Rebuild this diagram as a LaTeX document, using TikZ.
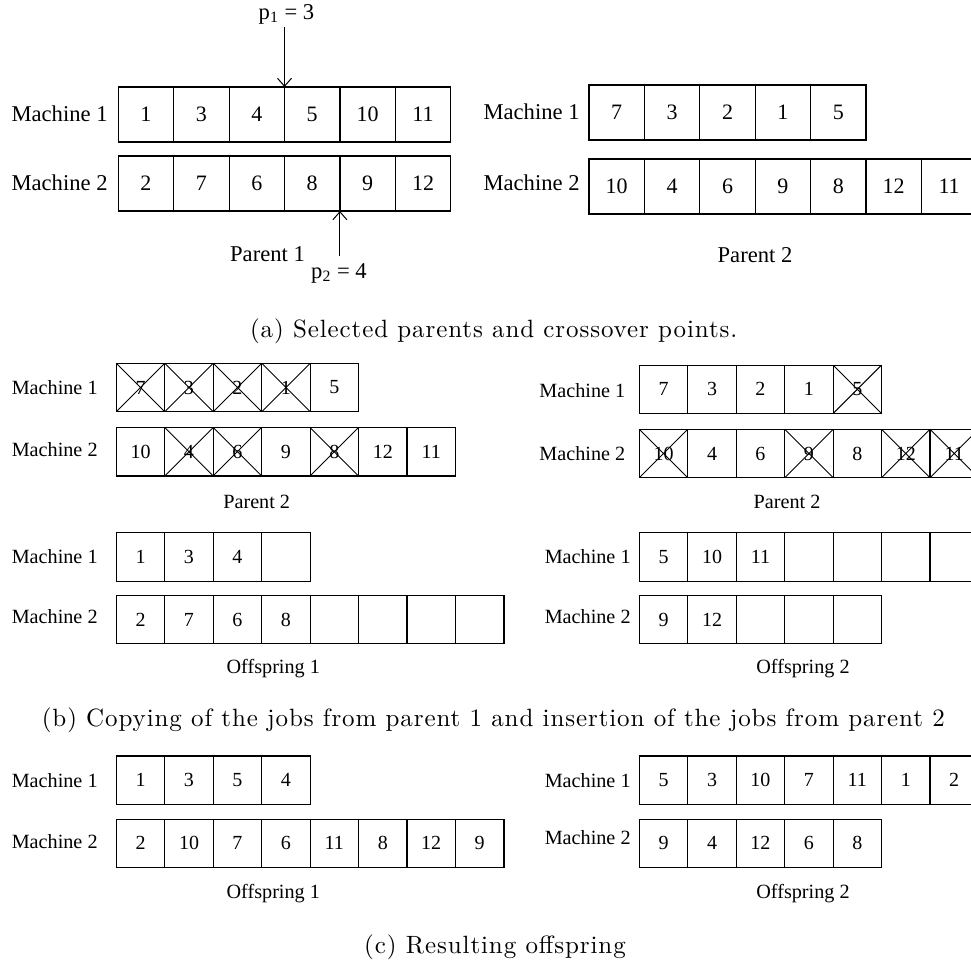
\documentclass[tikz,border=0pt]{standalone}
\usepackage{fontspec}
\usepackage{tikz}
\usetikzlibrary{arrows.meta}
\newfontfamily\jobfont{Liberation Serif}
\newfontfamily\capfont{lmroman10-regular}[Extension=.otf, LetterSpace=3.6]
\tikzset{
  bigcell/.style={draw, line width=0.6pt, minimum width=27.7pt, minimum height=27.5pt,
                  font=\jobfont\fontsize{11}{13}\selectfont, inner sep=0pt, outer sep=0pt, anchor=west},
  smallcell/.style={draw, line width=0.6pt, minimum width=24.2pt, minimum height=24.2pt,
                    font=\jobfont\fontsize{10}{12}\selectfont, inner sep=0pt, outer sep=0pt, anchor=west},
  crossed/.style={path picture={\draw[line width=0.45pt]
                    (path picture bounding box.north west) -- (path picture bounding box.south east)
                    (path picture bounding box.north east) -- (path picture bounding box.south west);}},
  biglabel/.style={font=\jobfont\fontsize{11.3}{13}\selectfont, inner sep=0pt},
  smalllabel/.style={font=\jobfont\fontsize{10.1}{12}\selectfont, inner sep=0pt},
  caption/.style={font=\capfont\fontsize{12.5}{15}\selectfont, inner sep=0pt},
  pointer/.style={line width=0.5pt, -{Straight Barb[length=4pt, width=7pt]}},
}
\begin{document}
\begin{tikzpicture}[x=0.5pt, y=-0.5pt]
    \clip (0,0) rectangle (971,966);
    \node[bigcell] (a1m1c1) at (118.3, 114.5) {1};
    \node[bigcell] (a1m1c2) at (173.7, 114.5) {3};
    \node[bigcell] (a1m1c3) at (229.1, 114.5) {4};
    \node[bigcell] (a1m1c4) at (284.5, 114.5) {5};
    \node[bigcell] (a1m1c5) at (339.9, 114.5) {10};
    \node[bigcell] (a1m1c6) at (395.3, 114.5) {11};
    \node[bigcell] (a1m2c1) at (118.3, 183.5) {2};
    \node[bigcell] (a1m2c2) at (173.7, 183.5) {7};
    \node[bigcell] (a1m2c3) at (229.1, 183.5) {6};
    \node[bigcell] (a1m2c4) at (284.5, 183.5) {8};
    \node[bigcell] (a1m2c5) at (339.9, 183.5) {9};
    \node[bigcell] (a1m2c6) at (395.3, 183.5) {12};
    \node[biglabel, anchor=east] (a1m1) at (108, 113.3) {Machine 1};
    \node[biglabel, anchor=east] (a1m2) at (108, 182.5) {Machine 2};
    \node[biglabel] (a1name) at (267.5, 254) {Parent 1};
    \node[biglabel, inner sep=1pt] (pone) at (286.5, 14.5) {p\textsubscript{1} = 3};
    \node[biglabel, inner sep=3.5pt] (ptwo) at (339, 273.3) {p\textsubscript{2} = 4};
    \draw[pointer] (pone.south -| a1m1c4.north west) -- (a1m1c4.north west);
    \draw[pointer] (ptwo.north -| a1m2c5.south west) -- (a1m2c5.south west);
    \node[bigcell] (a2m1c1) at (589.0, 112.5) {7};
    \node[bigcell] (a2m1c2) at (644.4, 112.5) {3};
    \node[bigcell] (a2m1c3) at (699.8, 112.5) {2};
    \node[bigcell] (a2m1c4) at (755.2, 112.5) {1};
    \node[bigcell] (a2m1c5) at (810.6, 112.5) {5};
    \node[bigcell] (a2m2c1) at (589.0, 186.5) {10};
    \node[bigcell] (a2m2c2) at (644.4, 186.5) {4};
    \node[bigcell] (a2m2c3) at (699.8, 186.5) {6};
    \node[bigcell] (a2m2c4) at (755.2, 186.5) {9};
    \node[bigcell] (a2m2c5) at (810.6, 186.5) {8};
    \node[bigcell] (a2m2c6) at (866.0, 186.5) {12};
    \node[bigcell] (a2m2c7) at (921.4, 186.5) {11};
    \node[biglabel, anchor=east] (a2m1) at (580, 111.7) {Machine 1};
    \node[biglabel, anchor=east] (a2m2) at (580, 182.5) {Machine 2};
    \node[biglabel] (a2name) at (755, 255) {Parent 2};
    \node[caption] (capa) at (493.7, 331) {(a) Selected parents and crossover points.};
    \node[smallcell, crossed] (b1m1c1) at (116.3, 387.5) {7};
    \node[smallcell, crossed] (b1m1c2) at (164.8, 387.5) {3};
    \node[smallcell, crossed] (b1m1c3) at (213.2, 387.5) {2};
    \node[smallcell, crossed] (b1m1c4) at (261.7, 387.5) {1};
    \node[smallcell] (b1m1c5) at (310.1, 387.5) {5};
    \node[smallcell] (b1m2c1) at (116.3, 451.7) {10};
    \node[smallcell, crossed] (b1m2c2) at (164.8, 451.7) {4};
    \node[smallcell, crossed] (b1m2c3) at (213.2, 451.7) {6};
    \node[smallcell] (b1m2c4) at (261.7, 451.7) {9};
    \node[smallcell, crossed] (b1m2c5) at (310.1, 451.7) {8};
    \node[smallcell] (b1m2c6) at (358.6, 451.7) {12};
    \node[smallcell] (b1m2c7) at (407.0, 451.7) {11};
    \node[smalllabel, anchor=east] (b1m1) at (98, 387.7) {Machine 1};
    \node[smalllabel, anchor=east] (b1m2) at (98, 449.2) {Machine 2};
    \node[smalllabel] (b1name) at (256.7, 502) {Parent 2};
    \node[smallcell] (b2m1c1) at (639.3, 389.3) {7};
    \node[smallcell] (b2m1c2) at (687.8, 389.3) {3};
    \node[smallcell] (b2m1c3) at (736.2, 389.3) {2};
    \node[smallcell] (b2m1c4) at (784.7, 389.3) {1};
    \node[smallcell, crossed] (b2m1c5) at (833.1, 389.3) {5};
    \node[smallcell, crossed] (b2m2c1) at (639.3, 453.5) {10};
    \node[smallcell] (b2m2c2) at (687.8, 453.5) {4};
    \node[smallcell] (b2m2c3) at (736.2, 453.5) {6};
    \node[smallcell, crossed] (b2m2c4) at (784.7, 453.5) {9};
    \node[smallcell] (b2m2c5) at (833.1, 453.5) {8};
    \node[smallcell, crossed] (b2m2c6) at (881.6, 453.5) {12};
    \node[smallcell, crossed] (b2m2c7) at (930.0, 453.5) {11};
    \node[smalllabel, anchor=east] (b2m1) at (625.7, 390.5) {Machine 1};
    \node[smalllabel, anchor=east] (b2m2) at (625.7, 453.7) {Machine 2};
    \node[smalllabel] (b2name) at (787, 502.3) {Parent 2};
    \node[smallcell] (b3m1c1) at (116.3, 556.9) {1};
    \node[smallcell] (b3m1c2) at (164.8, 556.9) {3};
    \node[smallcell] (b3m1c3) at (213.2, 556.9) {4};
    \node[smallcell] (b3m1c4) at (261.7, 556.9) {};
    \node[smallcell] (b3m2c1) at (116.3, 619.5) {2};
    \node[smallcell] (b3m2c2) at (164.8, 619.5) {7};
    \node[smallcell] (b3m2c3) at (213.2, 619.5) {6};
    \node[smallcell] (b3m2c4) at (261.7, 619.5) {8};
    \node[smallcell] (b3m2c5) at (310.1, 619.5) {};
    \node[smallcell] (b3m2c6) at (358.6, 619.5) {};
    \node[smallcell] (b3m2c7) at (407.0, 619.5) {};
    \node[smallcell] (b3m2c8) at (455.5, 619.5) {};
    \node[smalllabel, anchor=east] (b3m1) at (98, 556.7) {Machine 1};
    \node[smalllabel, anchor=east] (b3m2) at (98, 616.7) {Machine 2};
    \node[smalllabel] (b3name) at (273.3, 668.3) {Offspring 1};
    \node[smallcell] (b4m1c1) at (639.3, 556.9) {5};
    \node[smallcell] (b4m1c2) at (687.8, 556.9) {10};
    \node[smallcell] (b4m1c3) at (736.2, 556.9) {11};
    \node[smallcell] (b4m1c4) at (784.7, 556.9) {};
    \node[smallcell] (b4m1c5) at (833.1, 556.9) {};
    \node[smallcell] (b4m1c6) at (881.6, 556.9) {};
    \node[smallcell] (b4m1c7) at (930.0, 556.9) {};
    \node[smallcell] (b4m2c1) at (639.3, 619.5) {9};
    \node[smallcell] (b4m2c2) at (687.8, 619.5) {12};
    \node[smallcell] (b4m2c3) at (736.2, 619.5) {};
    \node[smallcell] (b4m2c4) at (784.7, 619.5) {};
    \node[smallcell] (b4m2c5) at (833.1, 619.5) {};
    \node[smalllabel, anchor=east] (b4m1) at (631, 557) {Machine 1};
    \node[smalllabel, anchor=east] (b4m2) at (631, 617) {Machine 2};
    \node[smalllabel] (b4name) at (803, 668.3) {Offspring 2};
    \node[caption] (capb) at (493.3, 720) {(b) Copying of the jobs from parent 1 and insertion of the jobs from parent 2};
    \node[smallcell] (c1m1c1) at (116.3, 780.1) {1};
    \node[smallcell] (c1m1c2) at (164.8, 780.1) {3};
    \node[smallcell] (c1m1c3) at (213.2, 780.1) {5};
    \node[smallcell] (c1m1c4) at (261.7, 780.1) {4};
    \node[smallcell] (c1m2c1) at (116.3, 843.3) {2};
    \node[smallcell] (c1m2c2) at (164.8, 843.3) {10};
    \node[smallcell] (c1m2c3) at (213.2, 843.3) {7};
    \node[smallcell] (c1m2c4) at (261.7, 843.3) {6};
    \node[smallcell] (c1m2c5) at (310.1, 843.3) {11};
    \node[smallcell] (c1m2c6) at (358.6, 843.3) {8};
    \node[smallcell] (c1m2c7) at (407.0, 843.3) {12};
    \node[smallcell] (c1m2c8) at (455.5, 843.3) {9};
    \node[smalllabel, anchor=east] (c1m1) at (98, 781) {Machine 1};
    \node[smalllabel, anchor=east] (c1m2) at (98, 842) {Machine 2};
    \node[smalllabel] (c1name) at (273.3, 893.3) {Offspring 1};
    \node[smallcell] (c2m1c1) at (639.3, 780.1) {5};
    \node[smallcell] (c2m1c2) at (687.8, 780.1) {3};
    \node[smallcell] (c2m1c3) at (736.2, 780.1) {10};
    \node[smallcell] (c2m1c4) at (784.7, 780.1) {7};
    \node[smallcell] (c2m1c5) at (833.1, 780.1) {11};
    \node[smallcell] (c2m1c6) at (881.6, 780.1) {1};
    \node[smallcell] (c2m1c7) at (930.0, 780.1) {2};
    \node[smallcell] (c2m2c1) at (639.3, 843.3) {9};
    \node[smallcell] (c2m2c2) at (687.8, 843.3) {4};
    \node[smallcell] (c2m2c3) at (736.2, 843.3) {12};
    \node[smallcell] (c2m2c4) at (784.7, 843.3) {6};
    \node[smallcell] (c2m2c5) at (833.1, 843.3) {8};
    \node[smalllabel, anchor=east] (c2m1) at (631, 780.5) {Machine 1};
    \node[smalllabel, anchor=east] (c2m2) at (631, 838) {Machine 2};
    \node[smalllabel] (c2name) at (803, 893.3) {Offspring 2};
    \node[caption] (capc) at (495, 947) {(c) Resulting offspring};
\end{tikzpicture}
\end{document}
